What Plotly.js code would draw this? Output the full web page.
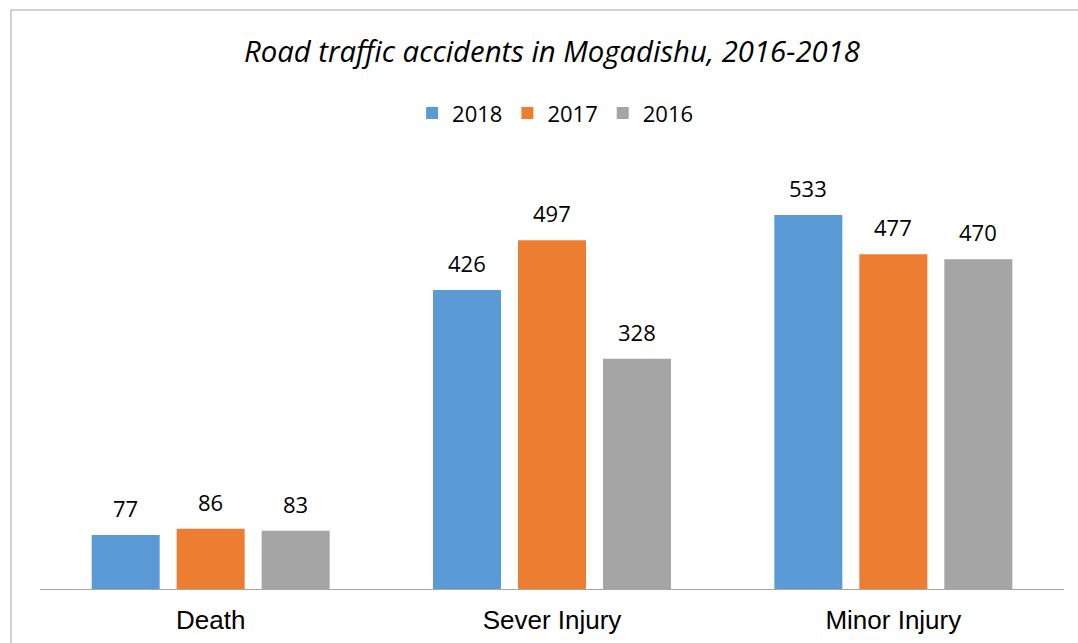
<!DOCTYPE html>
<html><head><meta charset="utf-8">
<script src="https://cdn.plot.ly/plotly-3.0.1.min.js"></script>
<style>html,body{margin:0;padding:0;background:#fff}#chart{width:1078px;height:643px}</style>
</head><body><div id="chart"></div>
<script>
const categories = ["Death", "Sever Injury", "Minor Injury"];
const seriesNames = ["2018", "2017", "2016"];
const values2018 = [77, 426, 533];
const values2017 = [86, 497, 477];
const values2016 = [83, 328, 470];
const colors = ["#5B9BD5", "#ED7D31", "#A5A5A5"];

const seriesValues = [values2018, values2017, values2016];
const traces = seriesValues.map((vals, i) => ({
  type: "bar", name: seriesNames[i], x: categories, y: vals,
  marker: {color: colors[i]}, hoverinfo: "none"
}));

const offsets = [-85, 0, 85];
const annotations = [];
seriesValues.forEach((vals, i) => {
  vals.forEach((v, j) => {
    annotations.push({
      x: categories[j], y: v, xref: "x", yref: "y", text: String(v),
      showarrow: false, xshift: offsets[i], yshift: 27, yanchor: "middle",
      font: {family: "Open Sans", size: 22, color: "#000"}
    });
  });
});

const layout = {
  width: 1078, height: 643,
  margin: {l: 40, r: 14, t: 168, b: 54},
  paper_bgcolor: "#fff", plot_bgcolor: "#fff",
  title: {text: "<i>Road traffic accidents in Mogadishu, 2016-2018</i>", x: 0.512, xanchor: "center",
          y: 1 - 52/643, yanchor: "middle", font: {family: "Open Sans", size: 29.3, color: "#000"}},
  showlegend: true,
  legend: {orientation: "h", x: 0.503, xanchor: "center", y: 1.13, yanchor: "middle",
           font: {family: "Open Sans", size: 22, color: "#000"}, itemwidth: 30, traceorder: "normal"},
  barmode: "group", bargap: 0.253, bargroupgap: 0.2,
  xaxis: {showline: true, linecolor: "#A6A6A6", linewidth: 1, ticks: "", showgrid: false,
          tickfont: {family: "Liberation Sans", size: 26, color: "#000"}, ticklabelstandoff: 8},
  yaxis: {range: [0, 600], visible: false, showgrid: false, zeroline: false},
  annotations: annotations,
  shapes: [
    {type: "line", xref: "paper", yref: "paper", x0: -29/1024, x1: 1.1, y0: 579/421, y1: 579/421,
     line: {color: "#A6A6A6", width: 1}},
    {type: "line", xref: "paper", yref: "paper", x0: -29/1024, x1: -29/1024, y0: -0.2, y1: 579/421,
     line: {color: "#A6A6A6", width: 1}}
  ]
};
Plotly.newPlot("chart", traces, layout, {displayModeBar: false, staticPlot: true});
</script></body></html>
